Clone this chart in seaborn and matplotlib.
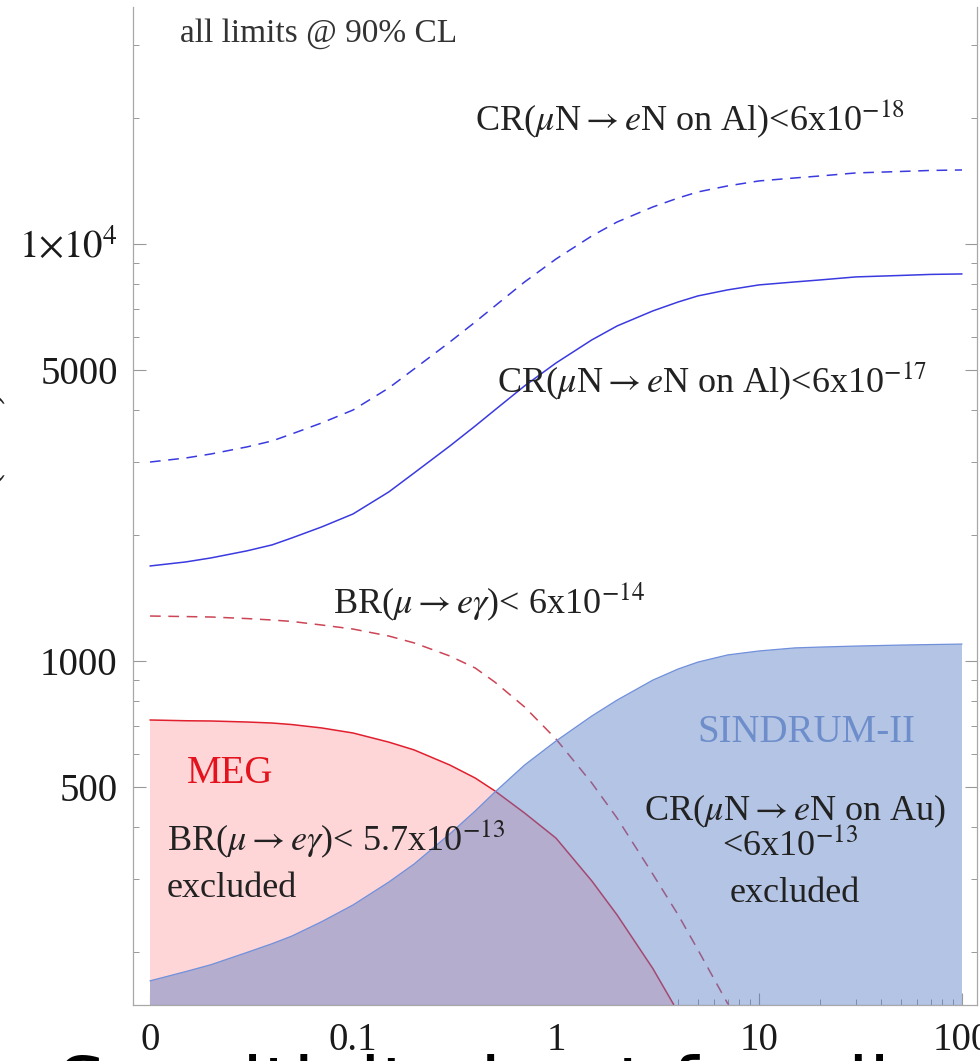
import numpy as np
import pandas as pd
import seaborn as sns
import matplotlib.pyplot as plt
import matplotlib.ticker as mticker

# values (x axis log, y axis = Lambda, log)
grid_x = [0.01, 0.015, 0.02, 0.03, 0.04, 0.05, 0.07, 0.1, 0.15, 0.2, 0.3, 0.4, 0.5, 0.7,
          1, 1.5, 2, 3, 4, 5, 7, 10, 15, 20, 30, 50, 70, 100]

cr_al_18 = [3000, 3068, 3137, 3261, 3371, 3504, 3722, 3998, 4515, 5015, 5821, 6501, 7101, 8108,
            9205, 10452, 11292, 12270, 12893, 13330, 13780, 14165, 14400, 14560, 14805, 14926, 15010, 15050]
cr_al_17 = [1690, 1728, 1767, 1837, 1899, 1973, 2096, 2252, 2543, 2824, 3278, 3661, 4000, 4567,
            5184, 5887, 6360, 6911, 7261, 7507, 7761, 7978, 8110, 8200, 8338, 8406, 8454, 8476]
sindrum = [171, 180, 187, 200, 210, 219, 237, 260, 295, 326, 385, 437, 485, 563,
           643, 738, 806, 900, 957, 994, 1034, 1057, 1075, 1080, 1086, 1092, 1095, 1098]

br14_x = [0.01, 0.015, 0.02, 0.03, 0.04, 0.05, 0.07, 0.1, 0.15, 0.2, 0.3, 0.4, 0.5, 0.7,
          1, 1.5, 2, 3, 4, 5, 7, 7.1]
br_14 = [1282, 1278, 1275, 1264, 1254, 1244, 1220, 1193, 1148, 1105, 1028, 962, 890, 776,
         650, 510, 420, 308, 246, 203, 151, 150]

meg_x = [0.01, 0.015, 0.02, 0.03, 0.04, 0.05, 0.07, 0.1, 0.15, 0.2, 0.3, 0.4, 0.5, 0.7,
         1, 1.5, 2, 3, 3.8]
meg = [722, 719, 718, 714, 710, 704, 691, 672, 639, 612, 563, 524, 488, 432,
       376, 297, 246, 183, 150]

xticks = [0.01, 0.1, 1, 10, 100]
xticklabels = ['0', '0.1', '1', '10', '100']
yticks = [500, 1000, 5000, 10000]
yticklabels = ['500', '1000', '5000', r'$1{\times}10^{4}$']

sns.set_style('ticks')
plt.rcParams['font.family'] = ['Liberation Serif', 'DejaVu Serif']
plt.rcParams['mathtext.fontset'] = 'stix'

W, H = 980, 1061
fig = plt.figure(figsize=(W / 100, H / 100), dpi=100)
ax = fig.add_axes([133 / W, 1 - 1005 / H, (977 - 133) / W, (1005 - 7) / H])
ax.set_xscale('log')
ax.set_yscale('log')

# MEG excluded region (opaque pink) and the red limit lines
ax.fill_between(meg_x, 1, meg, color='#ffd6d8', lw=0, zorder=1)
sns.lineplot(x=meg_x, y=meg, ax=ax, color='#e0202e', lw=1.1, zorder=2, sort=False)
sns.lineplot(x=br14_x, y=br_14, ax=ax, color='#cc4455', lw=1.1, linestyle=(0, (7, 5)), zorder=2, sort=False)

# SINDRUM-II region, translucent on top of MEG
ax.fill_between(grid_x, 1, sindrum, color='#5a7cc4', alpha=0.45, lw=0, zorder=3)
sns.lineplot(x=grid_x, y=sindrum, ax=ax, color='#7090dc', lw=0.9, zorder=4, sort=False)

# aluminium projections
sns.lineplot(x=grid_x, y=cr_al_17, ax=ax, color='#3a3ae0', lw=1.1, zorder=4, sort=False)
sns.lineplot(x=grid_x, y=cr_al_18, ax=ax, color='#3a3ae0', lw=1.1, linestyle=(0, (7, 5)), zorder=4, sort=False)

ax.set_xlim(10 ** (-2 - 17 / 203), 10 ** (2 + 15 / 203))
ax.set_ylim(10 ** (3 - 344 / 417), 10 ** (3 + 654 / 417))

ax.xaxis.set_major_locator(mticker.FixedLocator(xticks))
ax.xaxis.set_major_formatter(mticker.FixedFormatter(xticklabels))
ax.xaxis.set_minor_locator(mticker.FixedLocator([k * 10.0 ** d for d in range(-2, 2) for k in range(2, 10)]))
ax.xaxis.set_minor_formatter(mticker.NullFormatter())
ax.yaxis.set_major_locator(mticker.FixedLocator(yticks))
ax.yaxis.set_major_formatter(mticker.FixedFormatter(yticklabels))
ax.yaxis.set_minor_locator(mticker.LogLocator(base=10, subs=np.arange(2, 10)))
ax.yaxis.set_minor_formatter(mticker.NullFormatter())

for side in ['left', 'bottom', 'right']:
    ax.spines[side].set_visible(True)
    ax.spines[side].set_color('#a8a8a8')
    ax.spines[side].set_linewidth(0.9)
ax.spines['top'].set_visible(False)
ax.tick_params(which='both', direction='in', color='#999999', left=True, right=True, bottom=True, top=False,
               labelright=False, labelcolor='#1a1a1a')
ax.tick_params(which='major', length=9, width=0.8, labelsize=28)
ax.tick_params(which='minor', length=4, width=0.7)
ax.tick_params(axis='y', pad=11)
ax.tick_params(axis='x', pad=12)
ax.set_xlabel('')
ax.set_ylabel('')


def put(px, py, s, **kw):
    fig.text(px / W, 1 - py / H, s, va='baseline', **kw)


txt = dict(color='#222222', fontsize=26)
put(180, 42, 'all limits @ 90% CL', color='#333333', fontsize=24)
put(475, 130, r'CR($\mu$N$\rightarrow$$e$N on Al)<6x10$^{-18}$', **txt)
put(497, 392, r'CR($\mu$N$\rightarrow$$e$N on Al)<6x10$^{-17}$', **txt)
put(333, 613, r'BR($\mu\rightarrow e\gamma$)< 6x10$^{-14}$', **txt)
put(187, 783, 'MEG', color='#e3121c', fontsize=28)
put(167, 850, r'BR($\mu\rightarrow e\gamma$)< 5.7x10$^{-13}$', **txt)
put(167, 897, 'excluded', **txt)
put(697, 742, 'SINDRUM-II', color='#6e8ecb', fontsize=28)
put(795, 820, r'CR($\mu$N$\rightarrow$$e$N on Au)', ha='center', **txt)
put(790, 855, r'<6x10$^{-13}$', ha='center', **txt)
put(795, 902, 'excluded', ha='center', **txt)

# axis title, mostly off the left edge
fig.text(8 / W, 1 - 458 / H, r'$\Lambda$ (TeV)', rotation=90, ha='right', va='center', fontsize=28, color='#222222')

# caption strip along the bottom, only the tops of the letters show
fig.text(58 / W, 1 - 1112 / H, 'Sensitivity kept for all', fontsize=55, family='DejaVu Sans',
         color='black', va='baseline')

fig.savefig('out.png', dpi=100)
